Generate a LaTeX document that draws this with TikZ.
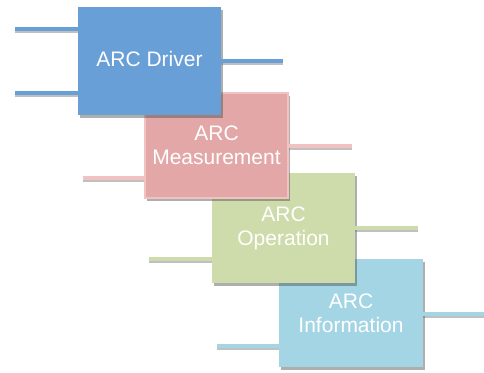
\documentclass[tikz,border=0pt]{standalone}
\usepackage{fontspec}
\setmainfont{Liberation Sans}
\usetikzlibrary{shadows}
\definecolor{cblue}{HTML}{689FD6}
\definecolor{cpink}{HTML}{E2A7A6}
\definecolor{cpinkb}{HTML}{F0C3C2}
\definecolor{cgreen}{HTML}{CDDCAA}
\definecolor{clblue}{HTML}{A3D5E4}
\begin{document}
\begin{tikzpicture}[x=1pt,y=-1pt,
  box/.style={inner sep=0pt, align=center, text=white,
    font=\fontsize{21}{24}\selectfont,
    drop shadow={shadow xshift=2pt, shadow yshift=-3pt, opacity=0.45, fill=black!70}},
  wire/.style={line width=4pt},
  wireshadow/.style={line width=4pt, draw=black!55, opacity=0.45}]
\useasboundingbox (0,0) rectangle (484,372);

% Box 4
\node[box, fill=clblue, minimum width=144pt, minimum height=108pt] (b4) at (351,313) {ARC\\Information};
\coordinate (l4) at (217,346);
\coordinate (r4) at (484,314);
\draw[wireshadow] ([yshift=-2pt]l4) -- ([yshift=-2pt]l4 -| b4.west);
\draw[wireshadow] ([yshift=-2pt]r4 -| b4.east) -- ([yshift=-2pt]r4);
\draw[wire, clblue] (l4) -- (l4 -| b4.west);
\draw[wire, clblue] (r4 -| b4.east) -- (r4);

% Box 3
\node[box, fill=cgreen, minimum width=143pt, minimum height=110pt] (b3) at (283.5,228) {ARC\\Operation};
\coordinate (l3) at (149,259);
\coordinate (r3) at (418,228);
\draw[wireshadow] ([yshift=-2pt]l3) -- ([yshift=-2pt]l3 -| b3.west);
\draw[wireshadow] ([yshift=-2pt]r3 -| b3.east) -- ([yshift=-2pt]r3);
\draw[wire, cgreen] (l3) -- (l3 -| b3.west);
\draw[wire, cgreen] (r3 -| b3.east) -- (r3);

% Box 2
\node[box, fill=cpink, draw=cpinkb, line width=2pt, minimum width=143pt, minimum height=105pt] (b2) at (216.5,145.5) {ARC\\Measurement};
\coordinate (l2) at (83,178);
\coordinate (r2) at (352,146);
\draw[wireshadow] ([yshift=-2pt]l2) -- ([yshift=-2pt]l2 -| b2.west);
\draw[wireshadow] ([yshift=-2pt]r2 -| b2.east) -- ([yshift=-2pt]r2);
\draw[wire, cpinkb] (l2) -- (l2 -| b2.west);
\draw[wire, cpinkb] (r2 -| b2.east) -- (r2);

% Box 1
\node[box, fill=cblue, minimum width=143pt, minimum height=108pt] (b1) at (149.5,61) {\raisebox{4pt}{ARC Driver}};
\coordinate (l1a) at (15,29);
\coordinate (l1b) at (15,93);
\coordinate (r1) at (283,61);
\draw[wireshadow] ([yshift=-2pt]l1a) -- ([yshift=-2pt]l1a -| b1.west);
\draw[wireshadow] ([yshift=-2pt]l1b) -- ([yshift=-2pt]l1b -| b1.west);
\draw[wireshadow] ([yshift=-2pt]r1 -| b1.east) -- ([yshift=-2pt]r1);
\draw[wire, cblue] (l1a) -- (l1a -| b1.west);
\draw[wire, cblue] (l1b) -- (l1b -| b1.west);
\draw[wire, cblue] (r1 -| b1.east) -- (r1);
\end{tikzpicture}
\end{document}
